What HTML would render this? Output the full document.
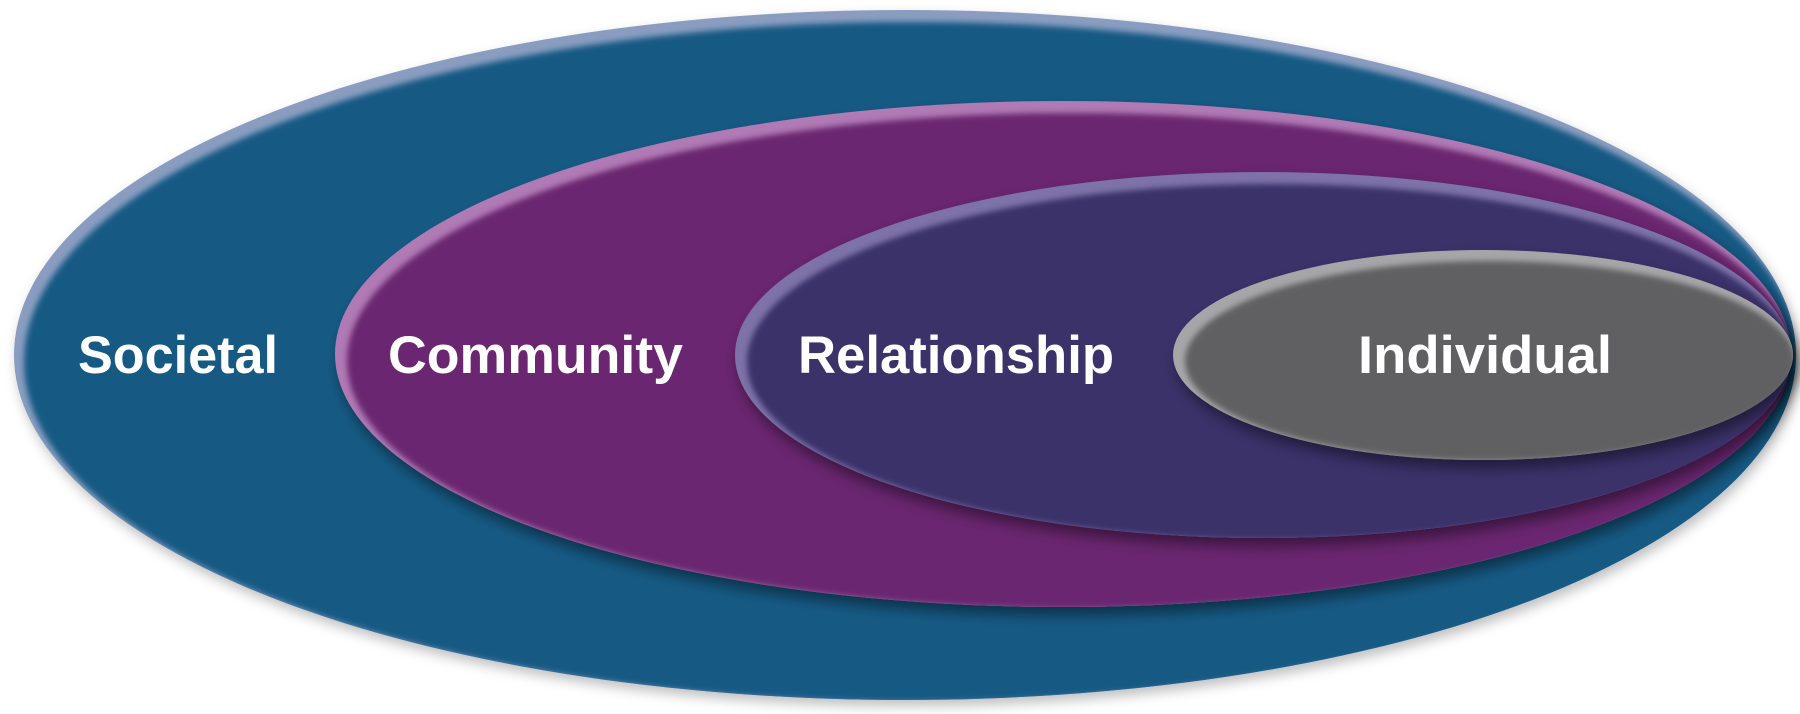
<!DOCTYPE html>
<html><head><meta charset="utf-8"><style>html,body{margin:0;padding:0;background:#fff}svg{display:block}</style></head>
<body>
<svg width="1800" height="714" viewBox="0 0 1800 714" xmlns="http://www.w3.org/2000/svg">
<defs>
<filter id="sh" x="-10%" y="-10%" width="120%" height="130%">
<feDropShadow dx="4" dy="8" stdDeviation="7" flood-color="#000" flood-opacity="0.45"/>
</filter>
<filter id="sh0" x="-10%" y="-10%" width="120%" height="130%">
<feDropShadow dx="3" dy="6" stdDeviation="6" flood-color="#000" flood-opacity="0.25"/>
</filter>
<filter id="bl" x="-5%" y="-5%" width="110%" height="110%"><feGaussianBlur stdDeviation="3"/></filter>
<clipPath id="c1"><ellipse cx="905" cy="355" rx="891" ry="345"/></clipPath>
<clipPath id="c2"><ellipse cx="1063" cy="354" rx="728" ry="253"/></clipPath>
<clipPath id="c3"><ellipse cx="1263" cy="355" rx="528" ry="183"/></clipPath>
<clipPath id="c4"><ellipse cx="1483" cy="355" rx="310" ry="105"/></clipPath>
</defs>
<g font-family="'Liberation Sans',sans-serif" font-weight="bold" font-size="53" fill="#fff">
<ellipse cx="905" cy="355" rx="891" ry="345" fill="#8a9dc0" filter="url(#sh0)"/>
<g clip-path="url(#c1)"><ellipse cx="912" cy="362" rx="888" ry="340" fill="#175a84" filter="url(#bl)"/></g>

<ellipse cx="1063" cy="354" rx="728" ry="253" fill="#b07ab5" filter="url(#sh)"/>
<g clip-path="url(#c2)"><ellipse cx="1071" cy="361" rx="724" ry="248" fill="#6b2670" filter="url(#bl)"/></g>

<ellipse cx="1263" cy="355" rx="528" ry="183" fill="#7d73a8" filter="url(#sh)"/>
<g clip-path="url(#c3)"><ellipse cx="1271" cy="362" rx="524" ry="178" fill="#3b306a" filter="url(#bl)"/></g>

<ellipse cx="1483" cy="355" rx="310" ry="105" fill="#a6a6a8" filter="url(#sh)"/>
<g clip-path="url(#c4)"><ellipse cx="1490" cy="361" rx="305" ry="100" fill="#606062" filter="url(#bl)"/></g>

<text x="78" y="373" textLength="200" lengthAdjust="spacingAndGlyphs">Societal</text>
<text x="388" y="373" textLength="295" lengthAdjust="spacingAndGlyphs">Community</text>
<text x="798" y="373" textLength="316" lengthAdjust="spacingAndGlyphs">Relationship</text>
<text x="1358" y="373" textLength="254" lengthAdjust="spacingAndGlyphs">Individual</text>
</g>
</svg>
</body></html>
